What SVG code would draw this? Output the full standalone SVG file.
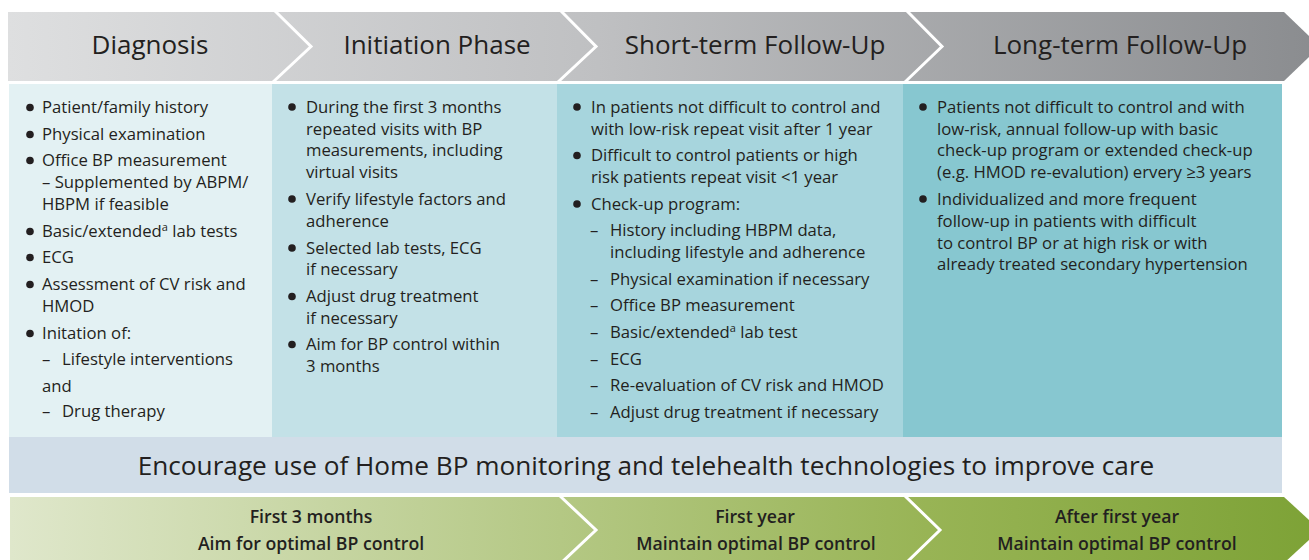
<svg xmlns="http://www.w3.org/2000/svg" width="1309" height="560" viewBox="0 0 1309 560">
<defs>
<linearGradient id="gHead" x1="8" y1="0" x2="1320" y2="0" gradientUnits="userSpaceOnUse">
<stop offset="0" stop-color="#dedfe0"/>
<stop offset="0.45" stop-color="#bfc0c2"/>
<stop offset="1" stop-color="#8a8c8f"/>
</linearGradient>
<linearGradient id="gGreen" x1="10" y1="0" x2="1320" y2="0" gradientUnits="userSpaceOnUse">
<stop offset="0" stop-color="#dfe7cb"/>
<stop offset="0.42" stop-color="#b4c884"/>
<stop offset="0.7" stop-color="#98b455"/>
<stop offset="1" stop-color="#7da236"/>
</linearGradient>
<style>
.t{font-family:"Open Sans","Liberation Sans",sans-serif;font-size:16.7px;fill:#231f20}
.h{font-family:"Open Sans","Liberation Sans",sans-serif;font-size:26px;fill:#231f20;text-anchor:middle}
.e{font-family:"Open Sans","Liberation Sans",sans-serif;font-size:26.2px;fill:#231f20;text-anchor:middle}
.g{font-family:"Open Sans","Liberation Sans",sans-serif;font-size:17.7px;font-weight:600;fill:#231f20;text-anchor:middle}
.sup{font-size:11px}
.div{fill:none;stroke:#ffffff;stroke-width:3}
.b{fill:#231f20}
</style>
</defs>
<rect width="1309" height="560" fill="#ffffff"/>

<g id="header">
<polygon points="8,12 1284,12 1320,46.5 1284,81 8,81" fill="url(#gHead)"/>
<text class="h" x="150" y="54">Diagnosis</text>
<text class="h" x="437" y="54">Initiation Phase</text>
<text class="h" x="755" y="54">Short-term Follow-Up</text>
<text class="h" x="1120" y="54">Long-term Follow-Up</text>
</g>

<g id="dividers">
<polyline class="div" points="275,11 311,46.5 273,82"/>
<polyline class="div" points="561,11 596,46.5 558,82"/>
<polyline class="div" points="907,11 942,46.5 905,82"/>
</g>

<g id="col-diagnosis">
<rect x="9" y="84" width="263" height="353" fill="#e3f1f3"/>
<circle class="b" cx="30" cy="107.5" r="3.8"/>
<text class="t" x="42" y="113">Patient/family history</text>
<circle class="b" cx="30" cy="134.5" r="3.8"/>
<text class="t" x="42" y="140">Physical examination</text>
<circle class="b" cx="30" cy="160.5" r="3.8"/>
<text class="t" x="42" y="166">Office BP measurement</text>
<text class="t" x="42" y="188">– Supplemented by ABPM/</text>
<text class="t" x="42" y="210">HBPM if feasible</text>
<circle class="b" cx="30" cy="231.5" r="3.8"/>
<text class="t" x="42" y="237">Basic/extended<tspan class="sup" dy="-6">a</tspan><tspan dy="6"> lab tests</tspan></text>
<circle class="b" cx="30" cy="257.5" r="3.8"/>
<text class="t" x="42" y="263">ECG</text>
<circle class="b" cx="30" cy="284.5" r="3.8"/>
<text class="t" x="42" y="290">Assessment of CV risk and</text>
<text class="t" x="42" y="312">HMOD</text>
<circle class="b" cx="30" cy="333.5" r="3.8"/>
<text class="t" x="42" y="339">Initation of:</text>
<text class="t" x="42" y="365">–</text>
<text class="t" x="62" y="365">Lifestyle interventions</text>
<text class="t" x="42" y="392">and</text>
<text class="t" x="42" y="417">–</text>
<text class="t" x="62" y="417">Drug therapy</text>
</g>

<g id="col-initiation">
<rect x="272" y="84" width="285" height="353" fill="#c3e1e7"/>
<circle class="b" cx="292" cy="107" r="3.8"/>
<text class="t" x="306" y="112.5">During the first 3 months</text>
<text class="t" x="306" y="134.5">repeated visits with BP</text>
<text class="t" x="306" y="156">measurements, including</text>
<text class="t" x="306" y="178">virtual visits</text>
<circle class="b" cx="292" cy="199" r="3.8"/>
<text class="t" x="306" y="204.5">Verify lifestyle factors and</text>
<text class="t" x="306" y="226.5">adherence</text>
<circle class="b" cx="292" cy="248" r="3.8"/>
<text class="t" x="306" y="253.5">Selected lab tests, ECG</text>
<text class="t" x="306" y="275">if necessary</text>
<circle class="b" cx="292" cy="296.5" r="3.8"/>
<text class="t" x="306" y="302">Adjust drug treatment</text>
<text class="t" x="306" y="323.5">if necessary</text>
<circle class="b" cx="292" cy="344.5" r="3.8"/>
<text class="t" x="306" y="350">Aim for BP control within</text>
<text class="t" x="306" y="372">3 months</text>
</g>

<g id="col-short-term">
<rect x="557" y="84" width="346" height="353" fill="#a7d5dd"/>
<circle class="b" cx="577" cy="107" r="3.8"/>
<text class="t" x="591" y="112.5">In patients not difficult to control and</text>
<text class="t" x="591" y="134.5">with low-risk repeat visit after 1 year</text>
<circle class="b" cx="577" cy="155.5" r="3.8"/>
<text class="t" x="591" y="161">Difficult to control patients or high</text>
<text class="t" x="591" y="183">risk patients repeat visit &lt;1 year</text>
<circle class="b" cx="577" cy="204" r="3.8"/>
<text class="t" x="591" y="209.5">Check-up program:</text>
<text class="t" x="590" y="236">–</text>
<text class="t" x="610" y="236">History including HBPM data,</text>
<text class="t" x="610" y="258">including lifestyle and adherence</text>
<text class="t" x="590" y="284.5">–</text>
<text class="t" x="610" y="284.5">Physical examination if necessary</text>
<text class="t" x="590" y="311">–</text>
<text class="t" x="610" y="311">Office BP measurement</text>
<text class="t" x="590" y="338">–</text>
<text class="t" x="610" y="338">Basic/extended<tspan class="sup" dy="-6">a</tspan><tspan dy="6"> lab test</tspan></text>
<text class="t" x="590" y="364.5">–</text>
<text class="t" x="610" y="364.5">ECG</text>
<text class="t" x="590" y="391">–</text>
<text class="t" x="610" y="391">Re-evaluation of CV risk and HMOD</text>
<text class="t" x="590" y="418">–</text>
<text class="t" x="610" y="418">Adjust drug treatment if necessary</text>
</g>

<g id="col-long-term">
<rect x="903" y="84" width="379" height="353" fill="#87c7d0"/>
<circle class="b" cx="923" cy="107" r="3.8"/>
<text class="t" x="937" y="112.5">Patients not difficult to control and with</text>
<text class="t" x="937" y="134.5">low-risk, annual follow-up with basic</text>
<text class="t" x="937" y="156">check-up program or extended check-up</text>
<text class="t" x="937" y="178">(e.g. HMOD re-evalution) ervery ≥3 years</text>
<circle class="b" cx="923" cy="199" r="3.8"/>
<text class="t" x="937" y="204.5">Individualized and more frequent</text>
<text class="t" x="937" y="226.5">follow-up in patients with difficult</text>
<text class="t" x="937" y="248.5">to control BP or at high risk or with</text>
<text class="t" x="937" y="270">already treated secondary hypertension</text>
</g>

<g id="encourage-band">
<rect x="9" y="437" width="1273" height="56" fill="#d1dde8"/>
<text class="e" x="646" y="474.5">Encourage use of Home BP monitoring and telehealth technologies to improve care</text>
</g>

<g id="timeline">
<polygon points="10,497 1284,497 1320,530 1284,563 10,563" fill="url(#gGreen)"/>
<text class="g" x="311" y="523">First 3 months</text>
<text class="g" x="311" y="550">Aim for optimal BP control</text>
<text class="g" x="755" y="523">First year</text>
<text class="g" x="756" y="550">Maintain optimal BP control</text>
<text class="g" x="1117" y="523">After first year</text>
<text class="g" x="1117" y="550">Maintain optimal BP control</text>
</g>
<g id="timeline-dividers">
<polyline class="div" points="560,496 596,530 560,564"/>
<polyline class="div" points="905,496 940,530 905,564"/>
</g>
</svg>
